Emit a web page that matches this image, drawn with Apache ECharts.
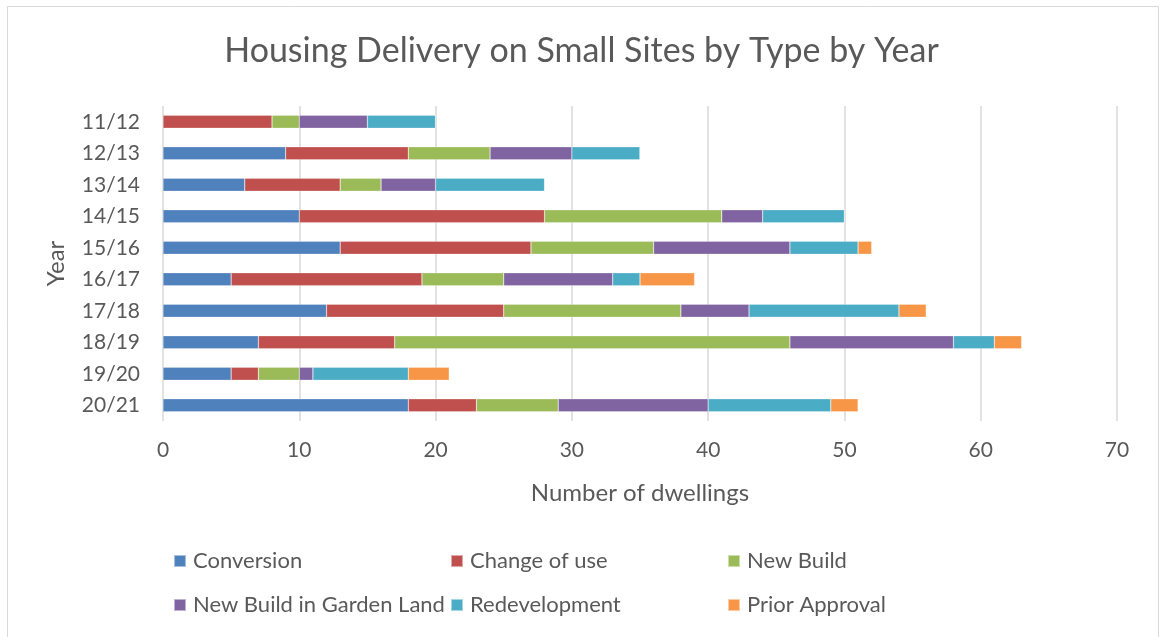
<!DOCTYPE html>
<html><head><meta charset="utf-8">
<script src="https://cdn.jsdelivr.net/npm/echarts@6/dist/echarts.min.js"></script>
<style>html,body{margin:0;padding:0;background:#fff}#c{width:1163px;height:637px}</style>
</head><body><div id="c"></div>
<script>
const years = ['11/12','12/13','13/14','14/15','15/16','16/17','17/18','18/19','19/20','20/21'];
const conversion   = [0, 9, 6, 10, 13, 5, 12, 7, 5, 18];
const changeOfUse  = [8, 9, 7, 18, 14, 14, 13, 10, 2, 5];
const newBuild     = [2, 6, 3, 13, 9, 6, 13, 29, 3, 6];
const gardenLand   = [5, 6, 4, 3, 10, 8, 5, 12, 1, 11];
const redevelopment= [5, 5, 8, 6, 5, 2, 11, 3, 7, 9];
const priorApproval= [0, 0, 0, 0, 1, 4, 2, 2, 3, 2];
const xTicks = [0,10,20,30,40,50,60,70];

const seriesDefs = [
  ['Conversion', conversion, '#4F81BD'],
  ['Change of use', changeOfUse, '#C0504D'],
  ['New Build', newBuild, '#9BBB59'],
  ['New Build in Garden Land', gardenLand, '#8064A2'],
  ['Redevelopment', redevelopment, '#4BACC6'],
  ['Prior Approval', priorApproval, '#F79646']
];
const font = 'Lato, "Open Sans", sans-serif';
const txt = '#595959';
const chart = echarts.init(document.getElementById('c'));
chart.setOption({
  animation: false,
  title: {text: 'Housing Delivery on Small Sites by Type by Year', left: 'center', top: 29,
    textStyle: {fontFamily: font, fontSize: 34, fontWeight: 'normal', color: txt}},
  graphic: [{type: 'rect', shape: {x: 7.5, y: 6.5, width: 1151, height: 640},
    style: {fill: 'none', stroke: '#D9D9D9', lineWidth: 1}, silent: true}],
  grid: {left: 163, right: 46, top: 106, bottom: 216, containLabel: false},
  legend: {left: 173, top: 539, width: 840, padding: 0, itemWidth: 12, itemHeight: 12, itemGap: 0,
    icon: 'rect',
    textStyle: {fontFamily: font, fontSize: 22, color: txt, width: 257, lineHeight: 44, padding: [0,0,0,2]},
    data: seriesDefs.map(d => d[0])},
  xAxis: {type: 'value', min: xTicks[0], max: xTicks[xTicks.length-1], interval: 10,
    name: 'Number of dwellings', nameLocation: 'middle', nameGap: 60,
    nameTextStyle: {fontFamily: font, fontSize: 24, color: txt},
    axisLabel: {fontFamily: font, fontSize: 21, color: txt, margin: 19},
    axisLine: {show: false}, axisTick: {show: false},
    splitLine: {lineStyle: {color: '#D9D9D9', width: 1.5}}},
  yAxis: {type: 'category', data: years, inverse: true,
    name: 'Year', nameLocation: 'middle', nameGap: 95, nameRotate: 90,
    nameTextStyle: {fontFamily: font, fontSize: 24, color: txt},
    axisLabel: {fontFamily: font, fontSize: 21, color: txt, margin: 23},
    axisLine: {show: false}, axisTick: {show: false}},
  series: seriesDefs.map(d => ({
    name: d[0], type: 'bar', stack: 'total', data: d[1], barWidth: 13,
    itemStyle: {color: d[2], borderColor: 'rgba(255,255,255,0.5)', borderWidth: 0.5}
  }))
});
</script></body></html>
